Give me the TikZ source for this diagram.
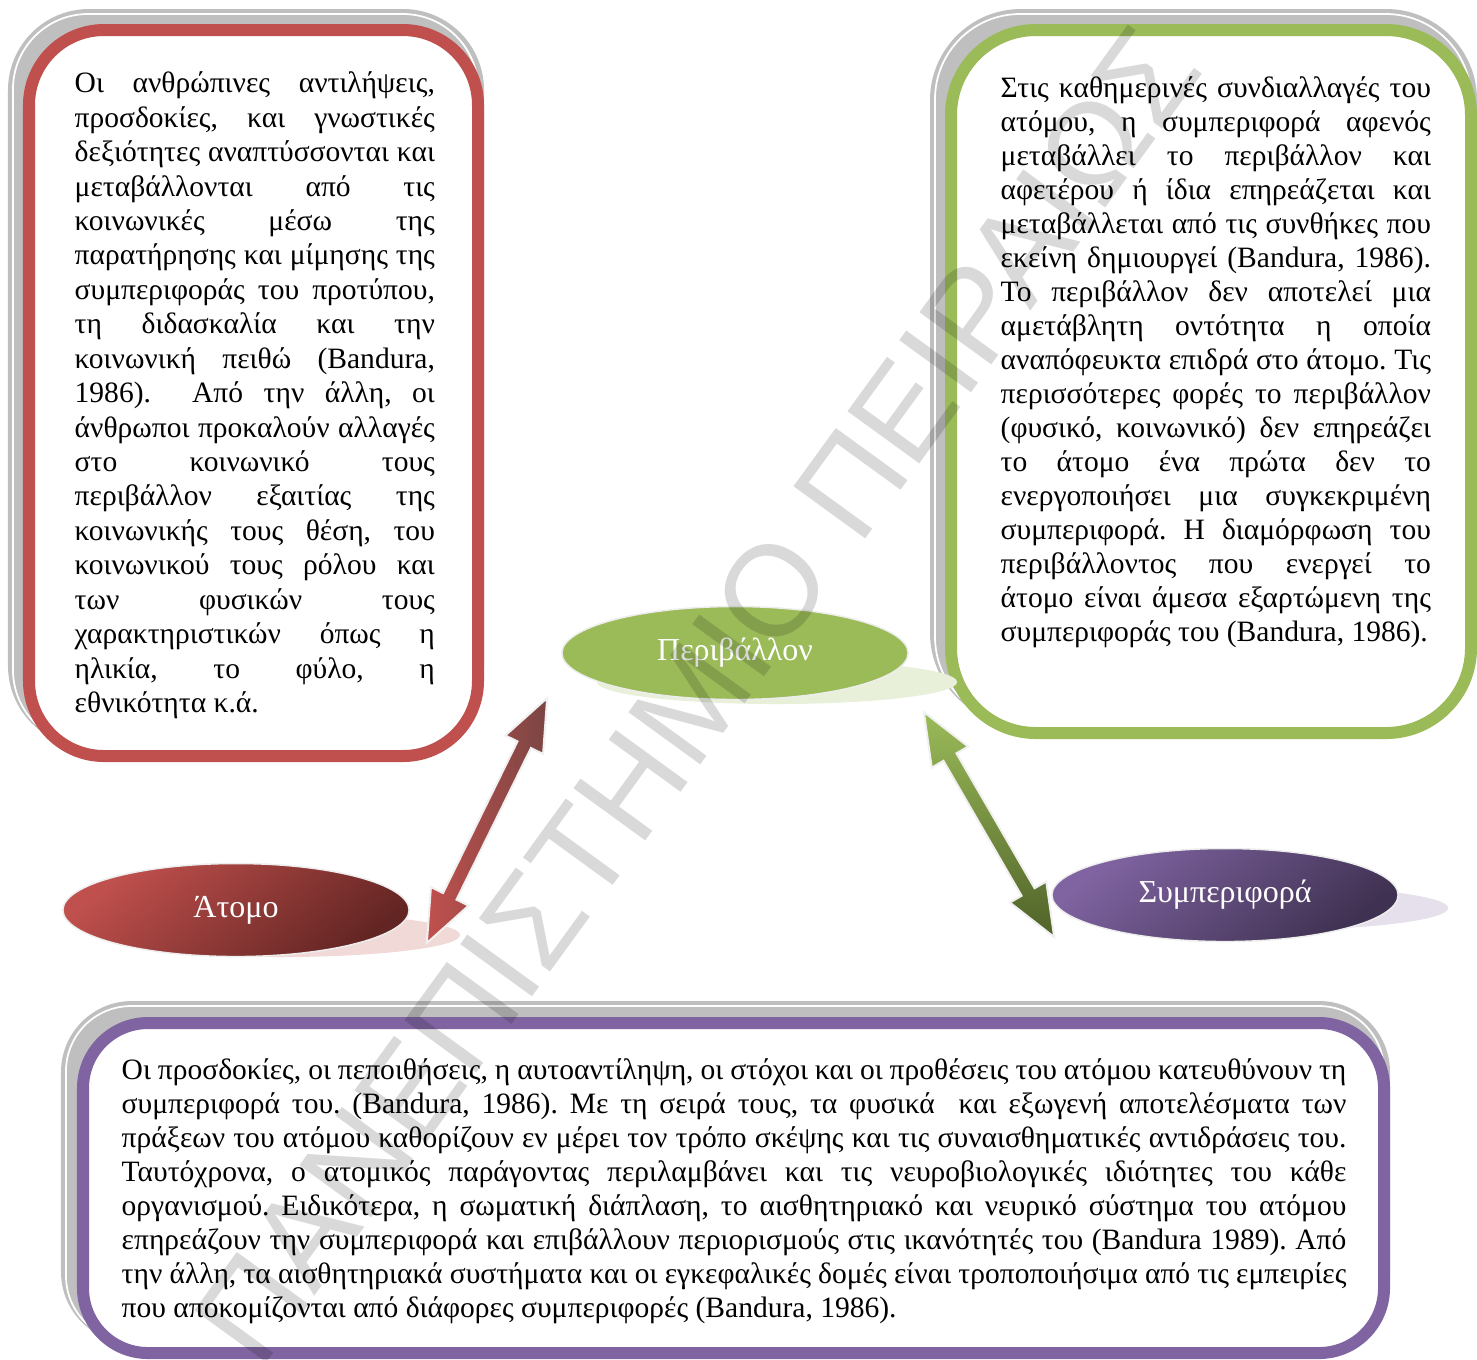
\documentclass[tikz,border=0pt]{standalone}
\usepackage{fontspec}
\setmainfont{Liberation Serif}
\newfontfamily\wmfont{Liberation Sans}
\usetikzlibrary{calc,shapes.geometric}
\frenchspacing
\definecolor{boxred}{HTML}{C0504D}
\definecolor{darkred}{HTML}{632523}
\definecolor{boxgreen}{HTML}{9BBB59}
\definecolor{darkgreen}{HTML}{4F6228}
\definecolor{boxpurple}{HTML}{8064A2}
\definecolor{darkpurple}{HTML}{3F3151}
\definecolor{shgray}{HTML}{BFBFBF}
\def\bodyfont{\fontsize{8.4}{9.67}\selectfont}
\def\leftfont{\fontsize{8.4}{9.79}\selectfont}
\def\labelfont{\fontsize{9.1}{11}\selectfont}
% one justified line, and a last line
\newcommand\jline[1]{\hbox to\linewidth{\strut#1}}
\newcommand\lastline[1]{\hbox to\linewidth{\strut#1\hfil}}
% double arrow drawn as one outline from tip (#2) to tip (#3)
\def\twoway[#1](#2)(#3){%
  \coordinate (h1) at ($(#2)!0.52cm!(#3)$);
  \coordinate (h2) at ($(#3)!0.52cm!(#2)$);
  \shadedraw[#1] (#2)
    -- ($(h1)!0.21cm!90:(#3)$) -- ($(h1)!0.075cm!90:(#3)$)
    -- ($(h2)!0.075cm!-90:(#2)$) -- ($(h2)!0.21cm!-90:(#2)$)
    -- (#3)
    -- ($(h2)!0.21cm!90:(#2)$) -- ($(h2)!0.075cm!90:(#2)$)
    -- ($(h1)!0.075cm!-90:(#3)$) -- ($(h1)!0.21cm!-90:(#3)$) -- cycle;}

\begin{document}
\begin{tikzpicture}[x=0.01cm, y=-0.01cm,
    shadowbox/.style={draw=shgray, fill=shgray, line width=0.12cm, rounded corners=#1},
    shadowline/.style={draw=white, line width=0.5pt, rounded corners=#1},
    textbox/.style={fill=white, line width=0.12cm, rounded corners=#1},
    bodytext/.style={anchor=north west, inner sep=0pt, font=\bodyfont, align=justify},
    oval/.style={ellipse, minimum width=3.46cm, minimum height=0.93cm, inner sep=0pt,
      text=white, font=\labelfont, draw=black!7, line width=0.015cm},
    ovalshadow/.style={fill=#1, x radius=1.8cm, y radius=0.22cm},
    arrowline/.style={draw=black!6, line width=0.02cm}]
		%%%%% START %%%%%
		\useasboundingbox (0,0) rectangle (1477,1359);
		\clip (0,0) rectangle (1477,1359);
		
		% left box
		\draw[shadowbox=0.75cm] (14,15) rectangle (478,741);
		\draw[shadowline=0.75cm] (13,14) rectangle (478,745);
		\draw[textbox=0.75cm, draw=boxred] (29,30) rectangle (478,756);
		\node[bodytext, font=\leftfont, text width=3.6cm] (lefttext) at (74,68) {%
			\jline{Οι ανθρώπινες αντιλήψεις,}
			\jline{προσδοκίες, και γνωστικές}
			\jline{δεξιότητες αναπτύσσονται και}
			\jline{μεταβάλλονται από τις}
			\jline{κοινωνικές μέσω της}
			\jline{παρατήρησης και μίμησης της}
			\jline{συμπεριφοράς του προτύπου,}
			\jline{τη διδασκαλία και την}
			\jline{κοινωνική πειθώ (Bandura,}
			\jline{1986).\ \ Από την άλλη, οι}
			\jline{άνθρωποι προκαλούν αλλαγές}
			\jline{στο κοινωνικό τους}
			\jline{περιβάλλον εξαιτίας της}
			\jline{κοινωνικής τους θέση, του}
			\jline{κοινωνικού τους ρόλου και}
			\jline{των φυσικών τους}
			\jline{χαρακτηριστικών όπως η}
			\jline{ηλικία, το φύλο, η}
			\lastline{εθνικότητα κ.ά.}};
		
		% right box
		\draw[shadowbox=0.85cm] (936,15) rectangle (1471,718);
		\draw[shadowline=0.85cm] (935,14) rectangle (1471,722);
		\draw[textbox=0.85cm, draw=boxgreen] (951,30) rectangle (1471,733);
		\node[bodytext, text width=4.3cm] (righttext) at (1000,73.2) {%
			\jline{Στις καθημερινές συνδιαλλαγές του}
			\jline{ατόμου, η συμπεριφορά αφενός}
			\jline{μεταβάλλει το περιβάλλον και}
			\jline{αφετέρου ή ίδια επηρεάζεται και}
			\jline{μεταβάλλεται από τις συνθήκες που}
			\jline{εκείνη δημιουργεί (Bandura, 1986).}
			\jline{Το περιβάλλον δεν αποτελεί μια}
			\jline{αμετάβλητη οντότητα η οποία}
			\jline{αναπόφευκτα επιδρά στο άτομο. Τις}
			\jline{περισσότερες φορές το περιβάλλον}
			\jline{(φυσικό, κοινωνικό) δεν επηρεάζει}
			\jline{το άτομο ένα πρώτα δεν το}
			\jline{ενεργοποιήσει μια συγκεκριμένη}
			\jline{συμπεριφορά. Η διαμόρφωση του}
			\jline{περιβάλλοντος που ενεργεί το}
			\jline{άτομο είναι άμεσα εξαρτώμενη της}
			\lastline{συμπεριφοράς του (Bandura, 1986).}};
		
		% bottom box
		\draw[shadowbox=0.65cm] (67,1007) rectangle (1384,1337);
		\draw[shadowline=0.65cm] (66,1006) rectangle (1384,1341);
		\draw[textbox=0.65cm, draw=boxpurple] (83,1023) rectangle (1384,1353);
		\node[bodytext, text width=12.24cm] (bottomtext) at (121,1055) {%
			\jline{Οι προσδοκίες, οι πεποιθήσεις, η αυτοαντίληψη, οι στόχοι και οι προθέσεις του ατόμου κατευθύνουν τη}
			\jline{συμπεριφορά του. (Bandura, 1986). Με τη σειρά τους, τα φυσικά\ \ και εξωγενή αποτελέσματα των}
			\jline{πράξεων του ατόμου καθορίζουν εν μέρει τον τρόπο σκέψης και τις συναισθηματικές αντιδράσεις του.}
			\jline{Ταυτόχρονα, ο ατομικός παράγοντας περιλαμβάνει και τις νευροβιολογικές ιδιότητες του κάθε}
			\jline{οργανισμού. Ειδικότερα, η σωματική διάπλαση, το αισθητηριακό και νευρικό σύστημα του ατόμου}
			\jline{επηρεάζουν την συμπεριφορά και επιβάλλουν περιορισμούς στις ικανότητές του (Bandura 1989). Από}
			\jline{την άλλη, τα αισθητηριακά συστήματα και οι εγκεφαλικές δομές είναι τροποποιήσιμα από τις εμπειρίες}
			\lastline{που αποκομίζονται από διάφορες συμπεριφορές (Bandura, 1986).}};
		
		% ovals with their flat shadows
		\fill[ovalshadow=boxgreen!22] (777,682) ellipse [];
		\fill[ovalshadow=boxred!22] (280,935) ellipse [];
		\fill[ovalshadow=boxpurple!20] (1268,908) ellipse [];
		
		\node[oval, fill=boxgreen] (peri) at (735,653) {Περιβάλλον};
		\node[oval, top color=boxred, bottom color=darkred, shading angle=40] (atomo) at (236,910) {Άτομο};
		\node[oval, top color=boxpurple, bottom color=darkpurple, shading angle=40] (beh) at (1225,895) {Συμπεριφορά};
		
		% arrows
		\coordinate (ra) at ([shift={(-14,45)}]peri.west);
		\coordinate (rb) at ([shift={(17,33)}]atomo.east);
		\coordinate (ga) at ([shift={(15,59)}]peri.east);
		\coordinate (gb) at ([shift={(3,42)}]beh.west);
		\twoway[arrowline, left color=boxred, right color=darkred!85](ra)(rb)
		\twoway[arrowline, top color=boxgreen, bottom color=darkgreen](ga)(gb)
		
		% watermark
		\node[rotate=54, opacity=0.15, font=\wmfont\fontsize{36.7}{40}\selectfont, inner sep=0pt] (wm) at (697,695) {ΠΑΝΕΠΙΣΤΗΜΙΟ ΠΕΙΡΑΙΩΣ};
		
		%%%%% END %%%%%
	\end{tikzpicture}
\end{document}
